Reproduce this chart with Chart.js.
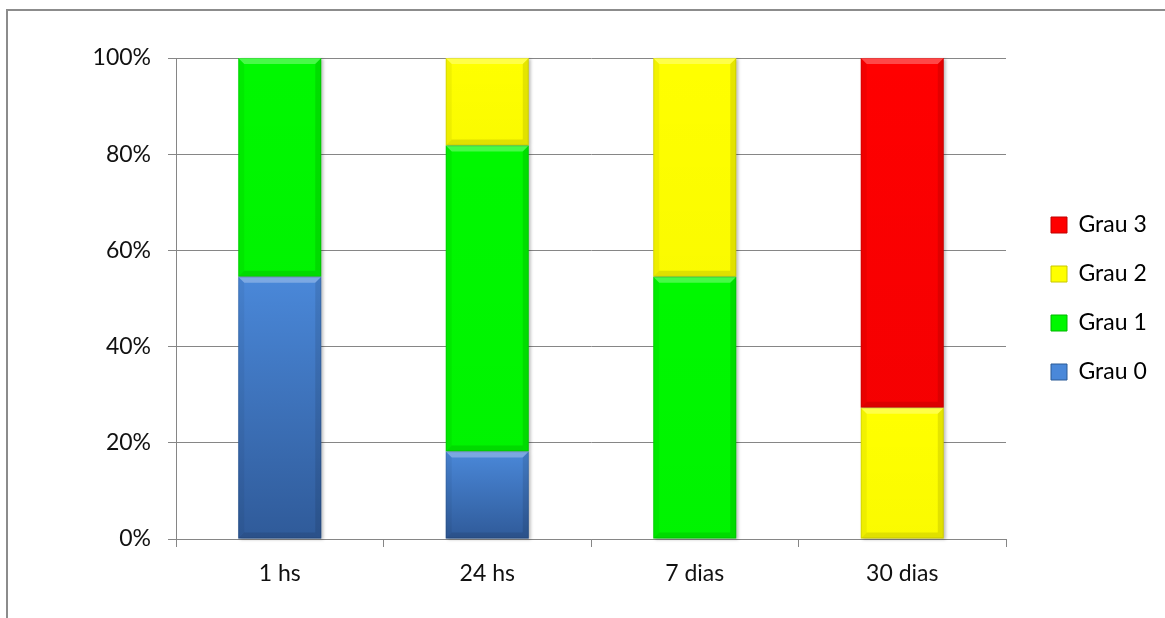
<!DOCTYPE html>
<html>
<head>
<meta charset="utf-8">
<script src="https://cdn.jsdelivr.net/npm/chart.js@4.4.1/dist/chart.umd.min.js"></script>
<style>
  html, body { margin: 0; padding: 0; background: #fff; overflow: hidden; }
  #wrap { position: relative; width: 1165px; height: 618px; }
  #frame { position: absolute; left: 6px; top: 9px; width: 1300px; height: 700px;
           border-top: 2px solid #8c8c8c; border-left: 2px solid #8c8c8c; box-sizing: border-box; }
  canvas { position: absolute; left: 0; top: 0; }
</style>
</head>
<body>
<div id="wrap">
  <div id="frame"></div>
  <canvas id="c" width="1165" height="618"></canvas>
</div>
<script>
// Tempo de avaliação
const categories = ['1 hs', '24 hs', '7 dias', '30 dias'];
// Percentual de casos por grau
const grau0 = [54.5, 18.2, 0, 0];
const grau1 = [45.5, 63.6, 54.5, 0];
const grau2 = [0, 18.2, 45.5, 27.3];
const grau3 = [0, 0, 0, 72.7];
const seriesNames = ['Grau 0', 'Grau 1', 'Grau 2', 'Grau 3'];
const yTicks = [0, 20, 40, 60, 80, 100];

const FONT = 'Lato, "Open Sans", sans-serif';
const GRID = '#868686';

// Base colour of each series and the darkening applied towards the bottom of a segment
const colors = ['#4a88d9', '#00f800', '#ffff00', '#ff0000'];
const edgeColors = ['#2b5a96', '#00b800', '#c8c800', '#c00000'];
const bottomShade = [0.36, 0.02, 0.02, 0.04];

function segments(chart, fn) {
  chart.data.datasets.forEach((ds, di) => {
    chart.getDatasetMeta(di).data.forEach(el => {
      const { x, y, base, width } = el.getProps(['x', 'y', 'base', 'width'], true);
      const t = Math.min(y, base), b = Math.max(y, base);
      if (b - t < 1) return;
      fn(di, x - width / 2, x + width / 2, t, b);
    });
  });
}

// Soft drop shadow behind each bar segment and a bevelled edge on top of it
const bevelPlugin = {
  id: 'bevel',
  beforeDatasetsDraw(chart) {
    const ctx = chart.ctx;
    ctx.save();
    ctx.filter = 'blur(1.5px)';
    ctx.fillStyle = 'rgba(0,0,0,0.25)';
    segments(chart, (di, l, r, t, b) => ctx.fillRect(l + 2, t + 1, r - l, b - t));
    ctx.restore();
  },
  afterDatasetsDraw(chart) {
    const ctx = chart.ctx;
    ctx.save();
    segments(chart, (di, l, r, t, b) => {
      const h = b - t;
      const d = Math.min(6, h / 2);
      const poly = (pts, style) => {
        ctx.fillStyle = style;
        ctx.beginPath();
        ctx.moveTo(pts[0][0], pts[0][1]);
        for (let k = 1; k < pts.length; k++) ctx.lineTo(pts[k][0], pts[k][1]);
        ctx.closePath();
        ctx.fill();
      };
      // vertical shading
      const g = ctx.createLinearGradient(0, t, 0, b);
      g.addColorStop(0, 'rgba(0,10,40,0)');
      g.addColorStop(1, 'rgba(0,10,40,' + bottomShade[di] + ')');
      ctx.fillStyle = g;
      ctx.fillRect(l, t, r - l, h);
      // top highlight
      poly([[l, t], [r, t], [r - d, t + d], [l + d, t + d]], 'rgba(255,255,255,0.28)');
      // left edge
      poly([[l, t], [l + d, t + d], [l + d, b - d], [l, b]], 'rgba(0,0,0,0.05)');
      // right edge
      poly([[r, t], [r - d, t + d], [r - d, b - d], [r, b]], 'rgba(0,0,0,0.10)');
      // bottom edge
      poly([[l, b], [l + d, b - d], [r - d, b - d], [r, b]], 'rgba(0,0,0,0.10)');
      ctx.strokeStyle = 'rgba(0,0,0,0.10)';
      ctx.lineWidth = 1;
      ctx.strokeRect(l + 0.5, t + 0.5, r - l - 1, h - 1);
    });
    ctx.restore();
  }
};

// Keeps a gap between the plot and the legend
const legendGap = {
  id: 'legendGap',
  afterLayout(chart) {
    const lg = chart.legend;
    if (!lg) return;
    lg.left += 19;
    lg.right = chart.width;
    lg.width = lg.right - lg.left;
  }
};

const datasets = [grau0, grau1, grau2, grau3].map((vals, i) => ({
  label: seriesNames[i],
  data: vals,
  backgroundColor: colors[i],
  borderWidth: 0,
  barPercentage: 0.4,
  categoryPercentage: 1.0
}));

new Chart(document.getElementById('c'), {
  type: 'bar',
  data: { labels: categories, datasets },
  plugins: [bevelPlugin, legendGap],
  options: {
    responsive: false,
    animation: false,
    devicePixelRatio: 1,
    layout: { padding: { top: 58, left: 0, right: 47, bottom: 0 } },
    scales: {
      x: {
        stacked: true,
        grid: { display: true, drawOnChartArea: false, drawTicks: true, tickLength: 8, color: GRID, lineWidth: 1 },
        border: { display: true, color: GRID, width: 1 },
        ticks: { color: '#111', font: { family: FONT, size: 23 }, padding: 13 },
        afterFit(s) { s.height = 79; }
      },
      y: {
        stacked: true,
        min: 0,
        max: 100,
        afterBuildTicks(s) { s.ticks = yTicks.map(v => ({ value: v })); },
        grid: { color: GRID, lineWidth: 1, tickLength: 8, drawTicks: true },
        border: { display: true, color: GRID, width: 1 },
        ticks: { color: '#111', font: { family: FONT, size: 23 }, padding: 17, callback: v => v + '%' },
        afterFit(s) { s.width = 176; }
      }
    },
    plugins: {
      legend: {
        position: 'right',
        fullSize: false,
        reverse: true,
        maxWidth: 112,
        labels: {
          boxWidth: 16,
          boxHeight: 16,
          padding: 26,
          color: '#111',
          font: { family: FONT, size: 23 },
          generateLabels(chart) {
            return chart.data.datasets.map((ds, i) => ({
              text: ds.label,
              fillStyle: colors[i],
              strokeStyle: edgeColors[i],
              lineWidth: 1,
              hidden: false,
              datasetIndex: i
            }));
          }
        }
      },
      tooltip: { enabled: false }
    }
  }
});
</script>
</body>
</html>
